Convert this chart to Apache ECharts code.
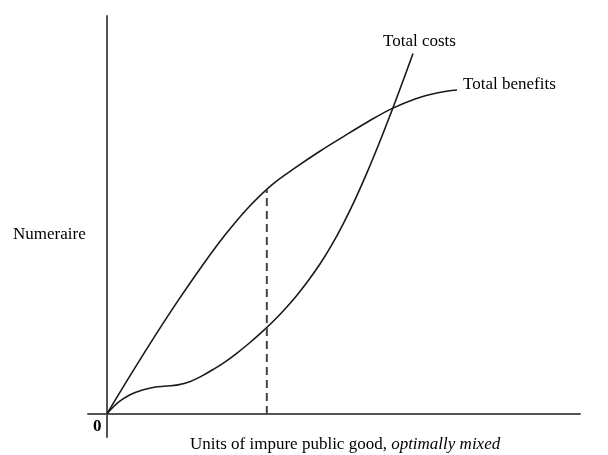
<!DOCTYPE html>
<html>
<head>
<meta charset="utf-8">
<script src="https://cdn.jsdelivr.net/npm/echarts@6/dist/echarts.min.js"></script>
<style>html,body{margin:0;padding:0;background:#fff;}#c{width:608px;height:455px;}</style>
</head>
<body>
<div id="c"></div>
<script>
const benefitsX = [0, 5, 10, 15, 20, 25, 30, 35, 40, 45, 50, 55, 60, 65, 70, 74];
const benefitsY = [0, 9.8, 19.3, 28.4, 37.0, 45.0, 52.0, 57.7, 62.0, 66.0, 69.7, 73.3, 76.6, 79.1, 80.7, 81.4];
const costsX = [0, 2.5, 5, 7.5, 10, 12.5, 15, 17.5, 20, 22.5, 25, 27.5, 30, 32.5, 35, 37.5, 40, 42.5, 45, 47.5, 50, 52.5, 55, 57.5, 60, 62.5, 64.7];
const costsY = [0, 3.0, 4.9, 6.0, 6.7, 7.0, 7.3, 8.1, 9.5, 11.2, 13.1, 15.3, 17.7, 20.3, 23.1, 26.2, 29.6, 33.4, 37.6, 42.4, 47.9, 54.0, 60.7, 67.9, 75.5, 83.4, 90.6];
const dashX = [33.8, 33.8];
const dashY = [0, 56.3];
const labels = {
  costs: 'Total costs',
  benefits: 'Total benefits',
  yTitle: 'Numeraire',
  xTitle: 'Units of impure public good, ',
  xTitleItalic: 'optimally mixed',
  origin: '0'
};

const zip = (xs, ys) => xs.map((x, i) => [x, ys[i]]);
const font = '"Liberation Serif", "DejaVu Serif", serif';
const txt = (t, x, y, extra) => ({ type: 'text', x: x, y: y, style: Object.assign({
  text: t, fontFamily: font, fontSize: 17, fill: '#000', verticalAlign: 'middle' }, extra || {}) });
const chart = echarts.init(document.getElementById('c'));
chart.setOption({
  animation: false,
  backgroundColor: '#fff',
  grid: { left: 88, right: 28, top: 16, bottom: 18 },
  xAxis: {
    type: 'value', min: -4, max: 100,
    axisLine: { onZero: true, lineStyle: { color: '#555', width: 2 } },
    axisTick: { show: false }, axisLabel: { show: false }, splitLine: { show: false }
  },
  yAxis: {
    type: 'value', min: -5.8, max: 100,
    axisLine: { show: true, onZero: true, lineStyle: { color: '#555', width: 2 } },
    axisTick: { show: false }, axisLabel: { show: false }, splitLine: { show: false }
  },
  series: [
    { type: 'line', data: zip(benefitsX, benefitsY), smooth: 0.4, symbol: 'none',
      lineStyle: { color: '#1a1a1a', width: 1.6 } },
    { type: 'line', data: zip(costsX, costsY), smooth: 0.4, symbol: 'none',
      lineStyle: { color: '#1a1a1a', width: 1.6 } },
    { type: 'line', data: zip(dashX, dashY), symbol: 'none',
      lineStyle: { color: '#444', width: 2, type: [8, 5] } }
  ],
  graphic: [
    txt(labels.costs, 383, 42),
    txt(labels.benefits, 463, 85),
    txt(labels.yTitle, 13, 235),
    txt(labels.origin, 93, 427, { fontWeight: 'bold' }),
    txt(labels.xTitle + '{i|' + labels.xTitleItalic + '}', 190, 445,
      { rich: { i: { fontStyle: 'italic', fontFamily: font, fontSize: 17, fill: '#000' } } })
  ]
});
</script>
</body>
</html>
